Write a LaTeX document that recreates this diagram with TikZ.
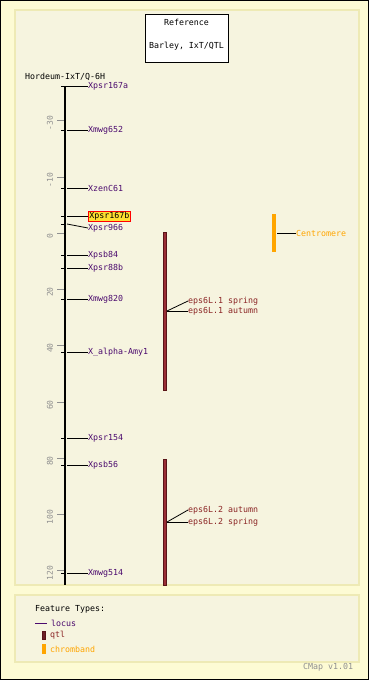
\documentclass[tikz,border=0pt]{standalone}
\usepackage{fontspec}
\setmainfont{DejaVu Sans Mono}
\definecolor{outerbg}{HTML}{FDFBD4}
\definecolor{panelbg}{HTML}{F6F4DF}
\definecolor{panelln}{HTML}{EEEAB5}
\definecolor{locuscol}{HTML}{4B0A6E}
\definecolor{qtlfill}{HTML}{9A2E36}
\definecolor{qtlline}{HTML}{5A1418}
\definecolor{qtltext}{HTML}{8B2525}
\definecolor{bandcol}{HTML}{FFA500}
\definecolor{scalegray}{HTML}{909090}
\definecolor{hlfill}{HTML}{FFE030}
\begin{document}
\begin{tikzpicture}[x=1pt,y=-1pt,
  txt/.style={font=\fontsize{8.3}{9}\selectfont, inner sep=0pt, anchor=west},
  locuslbl/.style={txt, text=locuscol},
  qtllbl/.style={txt, text=qtltext},
  conn/.style={line width=0.8pt, black},
  scalelbl/.style={font=\fontsize{8}{9}\selectfont, text=scalegray, rotate=90, inner sep=0pt},
  scaletick/.style={scalegray, line width=0.8pt},
  qtlbar/.style={fill=qtlfill, draw=qtlline, line width=0.5pt},
  panel/.style={fill=panelbg, draw=panelln, line width=1.5pt}]
\useasboundingbox (0,0) rectangle (369,680);
\fill[outerbg] (0,0) rectangle (369,680);
\draw[black, line width=1pt] (0.5,0.5) rectangle (368.5,679.5);
\draw[panel] (15,10) rectangle (359,585);
\draw[panel] (15,595) rectangle (359,662);
% reference box
\node[draw=black, fill=white, line width=0.8pt, minimum width=83pt, minimum height=48pt, inner sep=0pt] (ref) at (186.5,38) {};
\node[txt, anchor=center] (reft1) at (186.5,22) {Reference};
\node[txt, anchor=center] (reft2) at (186.5,46) {Barley, IxT/QTL};
% map title
\node[txt] (maptitle) at (25,77) {Hordeum-IxT/Q-6H};
% scale
\foreach \yy/\lab in {120/-30,177/-10,233/0,289/20,345/40,402/60,458/80,514/100,570/120}{
  \draw[scaletick] (57,\yy) -- (66,\yy);
  \node[scalelbl] at (50,\yy+3) {\lab};
}
% chromosome
\coordinate (ctop) at (65,86);
\coordinate (cbot) at (65,585);
\draw[black, line width=2.6pt] (ctop) -- (cbot);
\draw[black, line width=0.8pt] (61,86) -- (69,86);
% loci
\foreach \nm/\yy/\ly/\lab in {a/86/86/Xpsr167a, b/130/130/Xmwg652, c/188/188/XzenC61, e/224/228/Xpsr966, f/255/255/Xpsb84, g/268/268/Xpsr88b, h/299/299/Xmwg820, i/352/352/X\_alpha-Amy1, j/438/438/Xpsr154, k/465/465/Xpsb56, l/573/573/Xmwg514}{
  \coordinate (m\nm) at (67,\yy);
  \node[locuslbl] (l\nm) at (88,\ly) {\lab};
  \draw[conn] (61,\yy) -- (64,\yy);
  \draw[conn] (m\nm) -- (l\nm.west);
}
% highlighted locus
\coordinate (md) at (67,216);
\node[locuslbl, fill=hlfill, draw=red, line width=0.8pt, inner sep=1pt] (ld) at (88,216) {\textcolor{black}{Xpsr167b}};
\draw[conn] (61,216) -- (64,216);
\draw[conn] (md) -- (ld.west);
% QTL bars
\draw[qtlbar] (163.5,232) rectangle (166.5,390);
\draw[qtlbar] (163.5,459) rectangle (166.5,585);
\coordinate (q1) at (167,311);
\node[qtllbl] (q1a) at (188,301) {eps6L.1 spring};
\node[qtllbl] (q1b) at (188,311) {eps6L.1 autumn};
\draw[conn] (q1) -- (q1a.west);
\draw[conn] (q1) -- (q1b.west);
\coordinate (q2) at (167,522);
\node[qtllbl] (q2a) at (188,510) {eps6L.2 autumn};
\node[qtllbl] (q2b) at (188,522) {eps6L.2 spring};
\draw[conn] (q2) -- (q2a.west);
\draw[conn] (q2) -- (q2b.west);
% centromere
\fill[bandcol] (272,214) rectangle (276,252);
\coordinate (cen) at (277,233);
\node[txt, text=bandcol] (cenl) at (296,233) {Centromere};
\draw[conn] (cen) -- (cenl.west);
% legend
\node[txt] (ft) at (35,609) {Feature Types:};
\draw[locuscol, line width=0.8pt] (35,623) -- (47,623);
\node[locuslbl] (lg1) at (51,623) {locus};
\fill[qtlline] (41.5,631) rectangle (45.5,640);
\fill[qtlfill!70!black] (42.5,632) rectangle (44.5,639);
\node[qtllbl] (lg2) at (50,635) {qtl};
\fill[bandcol] (41.5,644) rectangle (46,654);
\node[txt, text=bandcol] (lg3) at (50,649) {chromband};
\node[txt, text=scalegray] (ver) at (303,667) {CMap v1.01};
\end{tikzpicture}
\end{document}
